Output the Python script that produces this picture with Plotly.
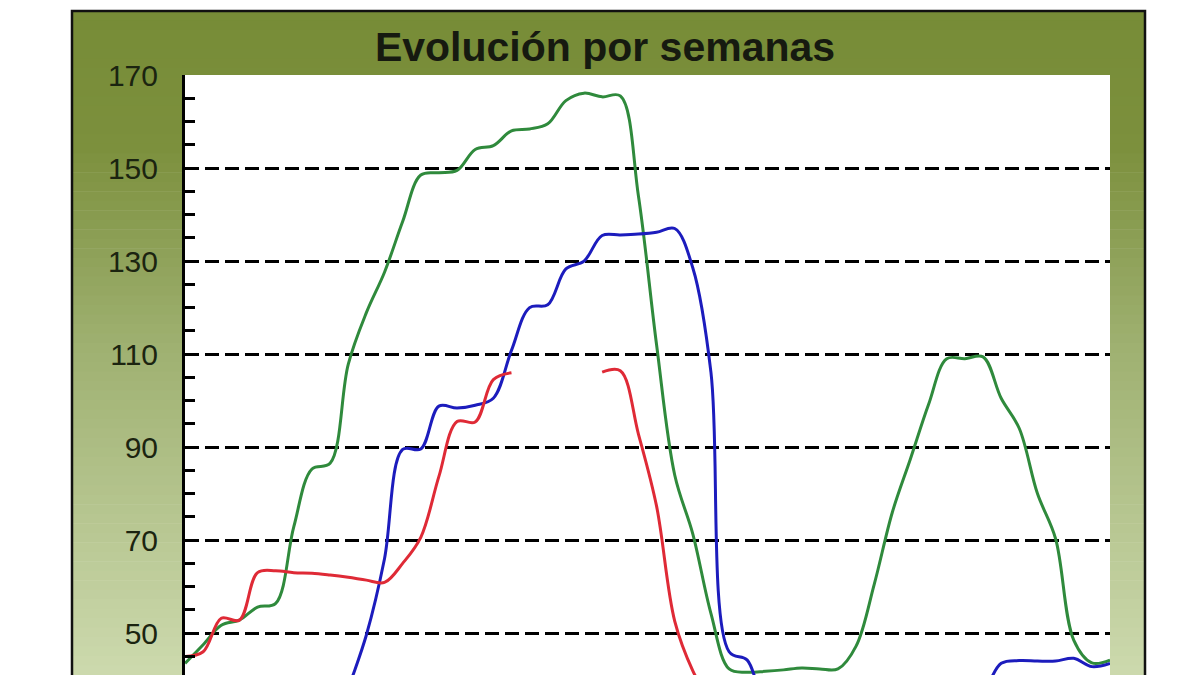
import plotly.graph_objects as go

# Datos semanales (semana 1 a 52)
semanas = list(range(1, 53))

serie_verde = [43.5, 47.5, 51.7, 52.8, 55.6, 56.4, 72.9, 85.3, 86.5, 107.8,
               118.9, 127.6, 138.5, 148.5, 149.0, 149.5, 154.0, 154.8, 158.0, 158.4,
               159.5, 164.5, 166.1, 165.3, 165.5, 144.0, 112.0, 84.0, 71.3, 54.2,
               42.3, 41.6, 41.8, 42.1, 42.5, 42.3, 42.3, 47.2, 60.5, 76.0,
               87.5, 99.2, 109.0, 109.0, 109.4, 100.5, 94.0, 80.0, 70.3, 48.5,
               43.6, 44.2]

serie_azul = [None, None, None, None, None, None, None, None, 26.0, 38.0,
              49.6, 66.0, 89.5, 89.6, 98.8, 98.4, 99.0, 100.5, 110.8, 120.0,
              120.6, 128.3, 130.0, 135.5, 135.6, 135.8, 136.2, 137.0, 128.5, 106.0,
              46.0, 44.2, 34.0, 31.0, 30.0, 29.0, 29.0, 29.0, 29.0, 29.0,
              30.0, 30.0, 31.0, 33.0, 37.0, 43.5, 44.1, 44.0, 44.0, 44.6,
              42.8, 43.5]

serie_roja = [45.0, 46.0, 53.2, 52.8, 63.0, 63.4, 63.0, 62.9, 62.5, 62.0,
              61.4, 60.9, 65.0, 70.6, 83.7, 95.5, 95.4, 104.5, 106.0, None,
              None, None, None, 106.1, 106.4, 92.8, 77.3, 52.6, 41.9, 35.0,
              None, None, None, None, None, None, None, None, None, None,
              None, None, None, None, None, None, None, None, None, None,
              None, None]

valores_eje_y = [50, 70, 90, 110, 130, 150, 170]
titulo = "Evolución por semanas"

# Geometria de la imagen (pixeles)
W, H = 1200, 675
PLOT_L, PLOT_R, PLOT_T, PLOT_B = 185, 1110, 75, 675
FRAME_L, FRAME_R, FRAME_T = 72, 1145, 11

FONT = "Liberation Sans, Arial, sans-serif"


def px_x(px):
    return (px - PLOT_L) / (PLOT_R - PLOT_L)


def px_y(py):
    return (PLOT_B - py) / (PLOT_B - PLOT_T)


def frame_color(t):
    """Degradado verde oliva (arriba) a verde claro (abajo)"""
    stops = [(0.0, (119, 140, 55)), (0.2, (124, 144, 61)),
             (0.5, (158, 176, 112)), (1.0, (204, 217, 173))]
    for (t0, c0), (t1, c1) in zip(stops[:-1], stops[1:]):
        if t <= t1:
            f = (t - t0) / (t1 - t0)
            r, g, b = [round(a + (b_ - a) * f) for a, b_ in zip(c0, c1)]
            return f"rgb({r},{g},{b})"
    return "rgb(204,217,173)"


fig = go.Figure()

fig.add_trace(go.Scatter(
    x=semanas, y=serie_verde, mode='lines', name='Verde',
    line=dict(color='#2f8a3c', width=3, shape='spline', smoothing=1.0)
))
fig.add_trace(go.Scatter(
    x=semanas, y=serie_azul, mode='lines', name='Azul',
    line=dict(color='#1c1cbd', width=3, shape='spline', smoothing=1.0)
))
fig.add_trace(go.Scatter(
    x=semanas, y=serie_roja, mode='lines', name='Roja',
    line=dict(color='#df2a36', width=3, shape='spline', smoothing=1.0)
))

# Marco con degradado
shapes = []
n_bands = 70
band_h = (H - FRAME_T) / n_bands
for i in range(n_bands):
    y0 = FRAME_T + i * band_h
    y1 = y0 + band_h + 0.6
    shapes.append(dict(
        type='rect', xref='paper', yref='paper', layer='below',
        x0=px_x(FRAME_L), x1=px_x(FRAME_R), y0=px_y(min(y1, H + 5)), y1=px_y(y0),
        fillcolor=frame_color(i / (n_bands - 1)), line=dict(width=0)
    ))
# area de trazado blanca
shapes.append(dict(
    type='rect', xref='paper', yref='paper', layer='below',
    x0=0, x1=1, y0=0, y1=1, fillcolor='white', line=dict(width=0)
))
# borde del marco
shapes.append(dict(
    type='rect', xref='paper', yref='paper', layer='below',
    x0=px_x(FRAME_L), x1=px_x(FRAME_R), y0=px_y(H + 20), y1=px_y(FRAME_T),
    fillcolor='rgba(0,0,0,0)', line=dict(color='#111111', width=2.5)
))

fig.update_layout(
    width=W, height=H,
    margin=dict(l=PLOT_L, r=W - PLOT_R, t=PLOT_T, b=H - PLOT_B),
    paper_bgcolor='white',
    plot_bgcolor='white',
    showlegend=False,
    shapes=shapes,
    title=dict(
        text=titulo,
        font=dict(family=FONT, size=41, color='#161a10', weight='bold'),
        x=605 / W, xanchor='center',
        y=1 - 47 / H, yanchor='middle'
    ),
    xaxis=dict(
        range=[1, 52], showgrid=False, zeroline=False, showline=False,
        showticklabels=False, ticks=''
    ),
    yaxis=dict(
        range=[41, 170],
        tickmode='array', tickvals=valores_eje_y,
        ticks='inside', ticklen=10, tickwidth=2.5, tickcolor='black',
        showline=True, linecolor='black', linewidth=3,
        showgrid=True, gridcolor='black', gridwidth=2.5, griddash='14px,6px',
        zeroline=False,
        tickfont=dict(family=FONT, size=30, color='#1b2410'),
        ticklabelstandoff=18,
        minor=dict(dtick=5, tick0=0, ticks='inside', ticklen=10,
                   tickwidth=2.5, tickcolor='black', showgrid=False)
    )
)

# quitar el margen por defecto del <body> para que el grafico quede en (0, 0)
fig.write_html(
    "out.html",
    config={'displayModeBar': False},
    post_script="document.body.style.margin='0';document.body.style.overflow='hidden';"
)
